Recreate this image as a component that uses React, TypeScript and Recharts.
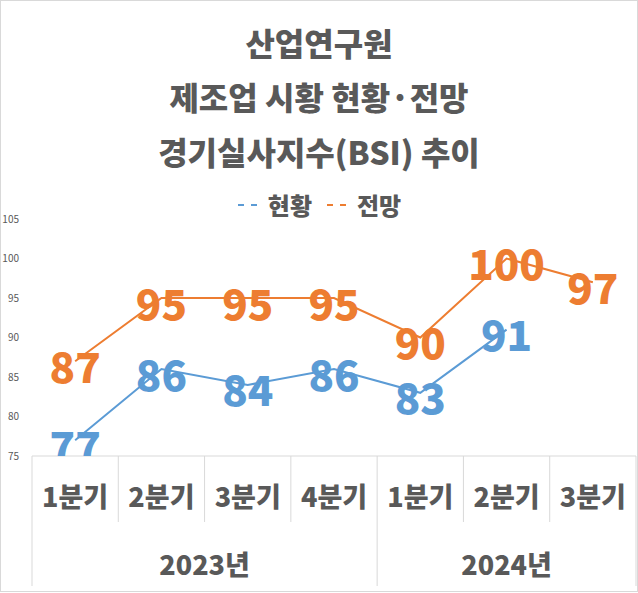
import React from "react";
import { ComposedChart, Line, XAxis, YAxis, LabelList } from "recharts";

const quarters = ["1분기", "2분기", "3분기", "4분기", "1분기", "2분기", "3분기"];
const years = ["2023년", "2023년", "2023년", "2023년", "2024년", "2024년", "2024년"];
const current = [77, 86, 84, 86, 83, 91, null];
const outlook = [87, 95, 95, 95, 90, 100, 97];
const yTicks = [75, 80, 85, 90, 95, 100, 105];

const BLUE = "#5B9BD5";
const ORANGE = "#ED7D31";
const GRAY = "#595959";
const GRID = "#D9D9D9";
const FONT = "'Noto Sans CJK KR', 'Noto Sans', sans-serif";

const data = quarters.map((q, i) => ({
  id: `${years[i]}-${q}`,
  current: current[i],
  outlook: outlook[i],
}));

const groupSize = (i: number) => years.filter((y) => y === years[i]).length;

const CategoryTick = (props: any) => {
  const { x, y, payload } = props;
  const i = payload.index;
  const half = payload.offset;
  const left = x - half;
  const first = i === 0 || years[i - 1] !== years[i];
  const last = i === quarters.length - 1;
  const groupCenter = left + groupSize(i) * half;
  return (
    <g>
      <line x1={left} y1={y} x2={left} y2={first ? y + 130 : y + 66} stroke={GRID} />
      {last && <line x1={x + half} y1={y} x2={x + half} y2={y + 130} stroke={GRID} />}
      <text x={x} y={y + 51} textAnchor="middle" fill={GRAY} fontSize={27} fontWeight={900} fontFamily={FONT}>
        {quarters[i]}
      </text>
      {first && (
        <text x={groupCenter} y={y + 119} textAnchor="middle" fill={GRAY} fontSize={27} fontWeight={900} fontFamily={FONT}>
          {years[i]}
        </text>
      )}
    </g>
  );
};

const makeLabel = (color: string) => (props: any) => {
  const { x, y, value } = props;
  if (value == null) return null;
  return (
    <text
      x={x}
      y={y + 3}
      textAnchor="middle"
      dominantBaseline="central"
      fill={color}
      fontSize={42}
      fontWeight={900}
      fontFamily={FONT}
      clipPath="url(#plotClip)"
    >
      {value}
    </text>
  );
};

const titleStyle: React.CSSProperties = {
  position: "absolute",
  left: 0,
  width: 638,
  textAlign: "center",
  fontFamily: FONT,
  fontWeight: 900,
  fontSize: 32,
  color: GRAY,
  lineHeight: "40px",
};

export default function App() {
  return (
    <div style={{ position: "absolute", left: 0, top: 0, width: 638, height: 593, background: "#fff" }}>
      <svg width={0} height={0} style={{ position: "absolute" }}>
        <defs>
          <clipPath id="plotClip">
            <rect x={0} y={0} width={638} height={456} />
          </clipPath>
        </defs>
      </svg>
      <div style={{ ...titleStyle, top: 22 }}>산업연구원</div>
      <div style={{ ...titleStyle, top: 76 }}>제조업 시황 현황·전망</div>
      <div style={{ ...titleStyle, top: 131 }}>경기실사지수(BSI) 추이</div>
      <div
        style={{
          position: "absolute",
          left: 0,
          top: 189,
          width: 638,
          display: "flex",
          justifyContent: "center",
          alignItems: "center",
          fontFamily: FONT,
          fontWeight: 900,
          fontSize: 24,
          color: GRAY,
          lineHeight: "32px",
        }}
      >
        <svg width={28} height={10}>
          <line x1={1} y1={5} x2={27} y2={5} stroke={BLUE} strokeWidth={2} strokeDasharray="6 7" />
        </svg>
        <span style={{ marginLeft: 3, marginRight: 14 }}>현황</span>
        <svg width={28} height={10}>
          <line x1={1} y1={5} x2={27} y2={5} stroke={ORANGE} strokeWidth={2} strokeDasharray="6 7" />
        </svg>
        <span style={{ marginLeft: 3 }}>전망</span>
      </div>
      <ComposedChart
        width={638}
        height={593}
        data={data}
        margin={{ top: 219, right: 2, bottom: 7, left: 0 }}
        style={{ position: "absolute", left: 0, top: 0 }}
      >
        <XAxis
          dataKey="id"
          scale="band"
          height={130}
          tickSize={0}
          tickMargin={0}
          tickLine={false}
          axisLine={{ stroke: GRID }}
          interval={0}
          tick={<CategoryTick />}
        />
        <YAxis
          domain={[75, 105]}
          ticks={yTicks}
          width={32}
          axisLine={false}
          tickLine={false}
          tickMargin={7}
          tick={{ fontSize: 10, fill: GRAY, fontFamily: FONT }}
        />
        <Line dataKey="current" stroke={BLUE} strokeWidth={2} dot={false} isAnimationActive={false}>
          <LabelList dataKey="current" content={makeLabel(BLUE)} />
        </Line>
        <Line dataKey="outlook" stroke={ORANGE} strokeWidth={2} dot={false} isAnimationActive={false}>
          <LabelList dataKey="outlook" content={makeLabel(ORANGE)} />
        </Line>
      </ComposedChart>
      <div style={{ position: "absolute", left: 0, top: 0, width: 638, height: 592, border: `1px solid ${GRID}`, boxSizing: "border-box", pointerEvents: "none" }} />
    </div>
  );
}
